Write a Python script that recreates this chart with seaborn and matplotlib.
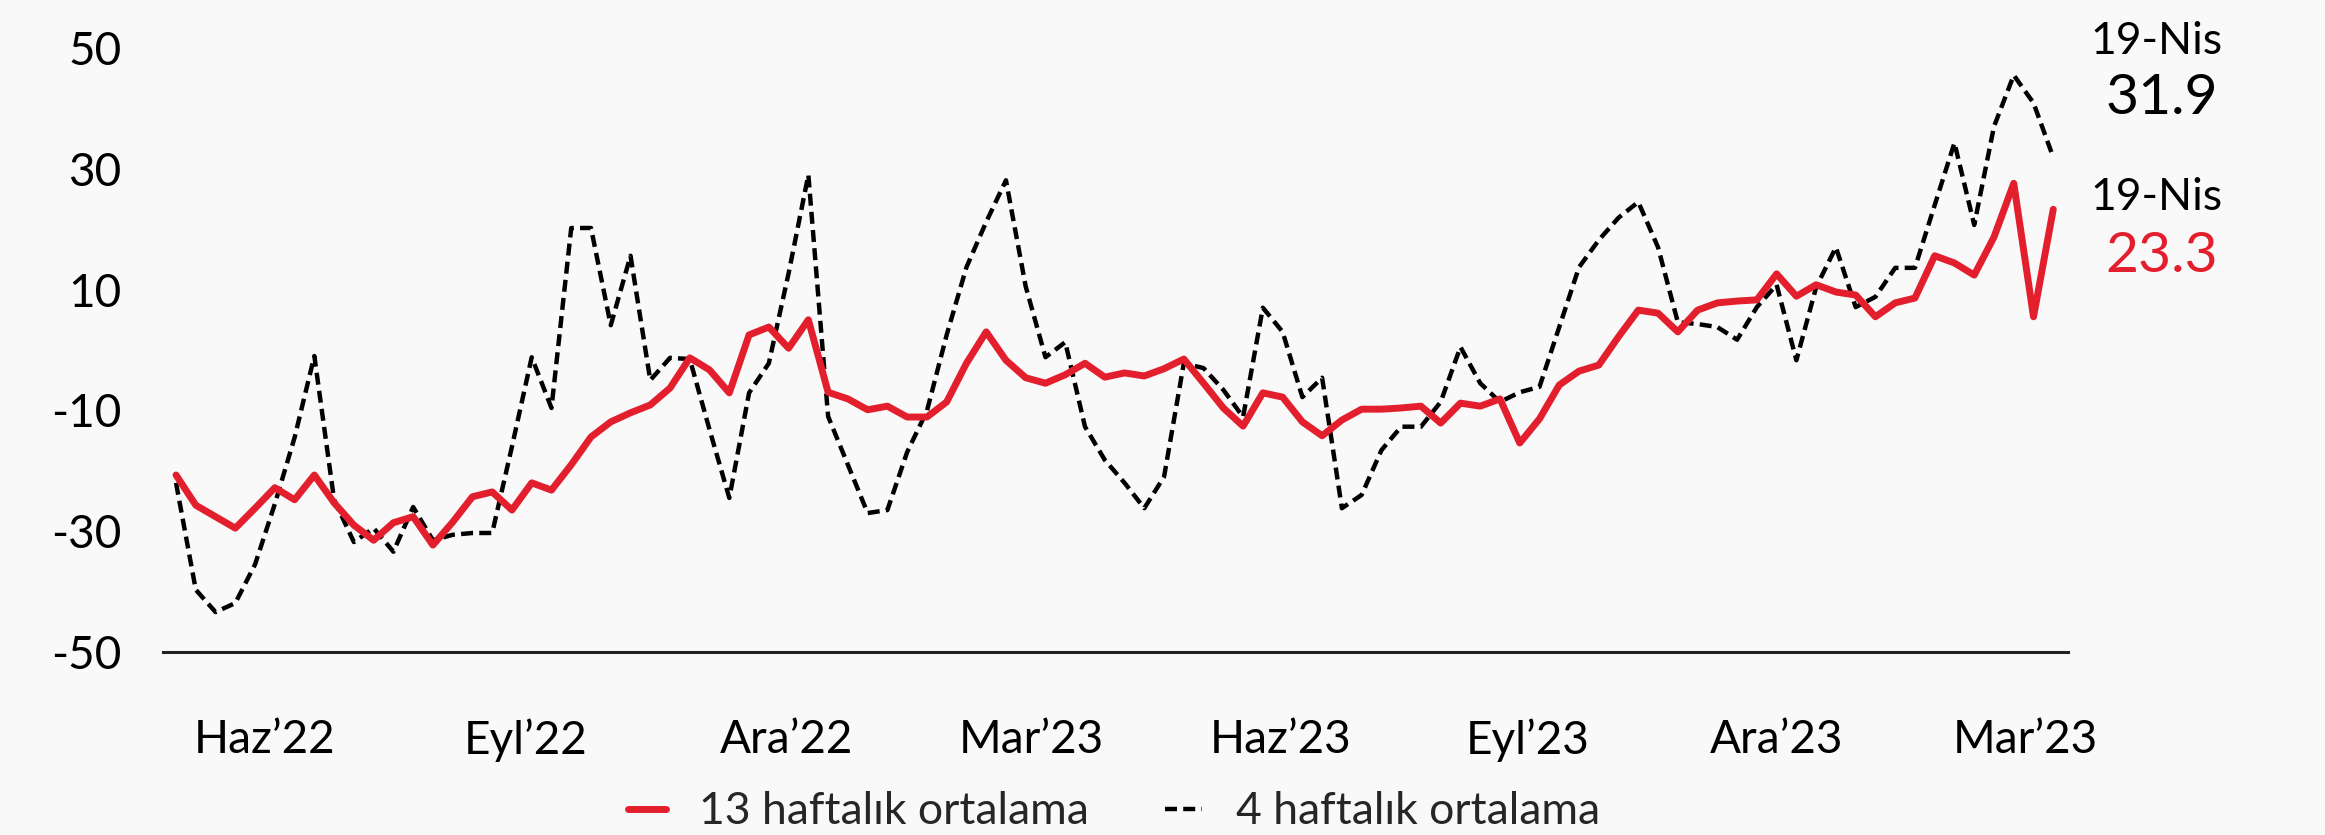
import numpy as np
import pandas as pd
import matplotlib
matplotlib.use('Agg')
import matplotlib.pyplot as plt
import seaborn as sns

# 13 haftalık ortalama (kırmızı), haftalık
ma13 = [-20.7, -25.7, -27.6, -29.5, -26.2, -22.8, -24.8, -20.7, -25.3, -29.0,
        -31.5, -28.6, -27.6, -32.3, -28.5, -24.3, -23.5, -26.5, -22.0, -23.2,
        -19.0, -14.4, -11.9, -10.4, -9.1, -6.3, -1.3, -3.3, -7.1, 2.5,
        3.8, 0.3, 5.0, -7.0, -8.1, -9.9, -9.3, -11.1, -11.1, -8.6,
        -2.2, 3.0, -1.7, -4.6, -5.5, -4.1, -2.2, -4.5, -3.8, -4.3,
        -3.1, -1.5, -5.5, -9.6, -12.6, -7.1, -7.8, -11.9, -14.2, -11.6,
        -9.8, -9.8, -9.6, -9.3, -12.1, -8.8, -9.3, -8.1, -15.4, -11.4,
        -5.8, -3.5, -2.5, 2.2, 6.6, 6.1, 3.0, 6.6, 7.8, 8.1,
        8.3, 12.6, 8.9, 10.8, 9.6, 9.1, 5.5, 7.8, 8.6, 15.6,
        14.4, 12.4, 18.7, 27.6, 5.5, 23.3]

# 4 haftalık ortalama (kesikli)
ma4 = [-22.0, -39.7, -43.4, -41.9, -35.5, -25.5, -14.5, -1.0, -24.8, -31.8,
       -29.5, -33.4, -26.0, -31.5, -30.6, -30.3, -30.3, -16.0, -1.2, -9.6,
       20.2, 20.2, 4.1, 15.6, -5.0, -1.3, -1.5, -13.2, -24.5, -7.1,
       -2.2, 12.7, 29.0, -11.0, -19.0, -27.0, -26.5, -16.9, -10.1, 2.5,
       13.7, 21.2, 28.1, 10.5, -1.2, 1.3, -12.7, -18.2, -22.0, -26.2,
       -21.0, -2.2, -3.0, -6.6, -11.1, 7.0, 3.0, -7.8, -4.6, -26.2,
       -24.0, -16.6, -12.7, -12.7, -8.6, 0.5, -5.5, -8.6, -7.0, -6.1,
       3.8, 13.7, 18.2, 21.9, 24.5, 17.0, 4.6, 4.3, 3.8, 1.7,
       7.1, 10.8, -1.7, 10.4, 17.0, 7.1, 8.8, 13.6, 13.6, 24.0,
       34.3, 20.7, 37.0, 45.5, 40.9, 31.9]

tick_labels = ["Haz’22", "Eyl’22", "Ara’22", "Mar’23", "Haz’23", "Eyl’23", "Ara’23", "Mar’23"]
tick_weeks = [4.5, 17.7, 30.9, 43.3, 55.9, 68.4, 81.0, 93.6]
y_ticks = [-50, -30, -10, 10, 30, 50]
last_date = "19-Nis"

RED = '#e31f2d'
BG = '#f9f9f9'

df = pd.DataFrame({'hafta': np.arange(len(ma13)), 'ma13': ma13, 'ma4': ma4})

sns.set_theme(style='white')
plt.rcParams['font.family'] = ['Lato', 'DejaVu Sans']

fig = plt.figure(figsize=(23.25, 8.35), dpi=100, facecolor=BG)
ax = fig.add_axes([0.0701, 0.2192, 0.8194, 0.7233])
ax.set_facecolor(BG)

sns.lineplot(data=df, x='hafta', y='ma4', ax=ax, color='black',
             label='4 haftalık ortalama', zorder=2)
dash_line = ax.lines[-1]
sns.lineplot(data=df, x='hafta', y='ma13', ax=ax, color=RED,
             label='13 haftalık ortalama', zorder=3)
red_line = ax.lines[-1]
dash_line.set_linewidth(3.2)
dash_line.set_dashes([2.7, 1.4])
red_line.set_linewidth(5.0)

ax.set_xlim(-0.66, 95.75)
ax.set_ylim(-50, 50)
ax.set_yticks(y_ticks)
ax.set_yticklabels([str(v) for v in y_ticks])
ax.set_xticks(tick_weeks)
ax.set_xticklabels(tick_labels)
ax.tick_params(axis='y', length=0, pad=30, labelsize=33, colors='black')
ax.tick_params(axis='x', length=0, pad=48, labelsize=33, colors='black')
ax.set_xlabel('')
ax.set_ylabel('')
for s in ['left', 'right', 'top']:
    ax.spines[s].set_visible(False)
ax.spines['bottom'].set_color('#222222')
ax.spines['bottom'].set_linewidth(2.2)

# last values on the right
fig.text(2156 / 2325, 1 - 41 / 835, last_date, ha='center', va='center', fontsize=32, color='black')
fig.text(2162 / 2325, 1 - 99 / 835, f"{ma4[-1]:.1f}", ha='center', va='center', fontsize=41, color='black')
fig.text(2156 / 2325, 1 - 198 / 835, last_date, ha='center', va='center', fontsize=32, color='black')
fig.text(2162 / 2325, 1 - 257 / 835, f"{ma13[-1]:.1f}", ha='center', va='center', fontsize=41, color=RED)

handles, labels = ax.get_legend_handles_labels()
order = [labels.index('13 haftalık ortalama'), labels.index('4 haftalık ortalama')]
leg = ax.legend([handles[i] for i in order], [labels[i] for i in order],
                loc='center', bbox_to_anchor=(1114 / 2325, 1 - 812 / 835),
                bbox_transform=fig.transFigure, ncol=2, frameon=False, fontsize=32,
                handlelength=0.85, handletextpad=0.75, columnspacing=1.7)
leg.get_lines()[0].set_linewidth(5.0)
leg.get_lines()[1].set_linewidth(3.2)
leg.get_lines()[1].set_dashes([2.7, 1.4])

fig.savefig('out.png', dpi=100, facecolor=BG)
